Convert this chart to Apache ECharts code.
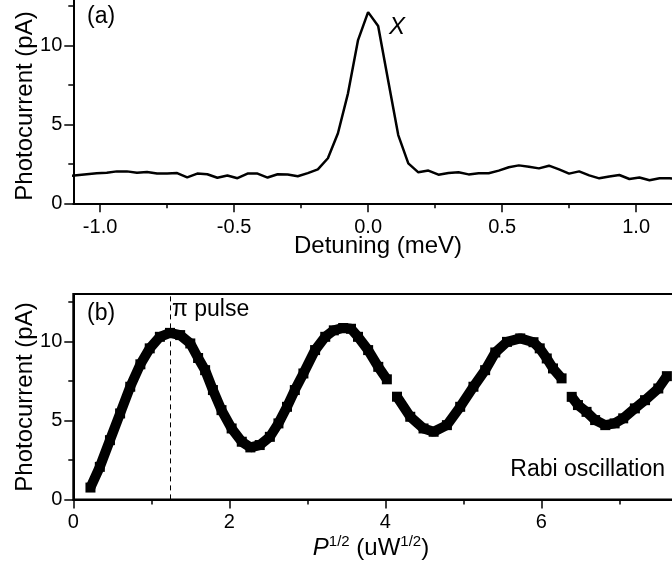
<!DOCTYPE html>
<html>
<head>
<meta charset="utf-8">
<script src="https://cdn.jsdelivr.net/npm/echarts@6/dist/echarts.min.js"></script>
<style>
  html, body { margin: 0; padding: 0; background: #fff; }
  #chart { width: 672px; height: 565px; }
</style>
</head>
<body>
<div id="chart"></div>
<script>
// (a) photocurrent vs detuning
var detuning = [
  -1.125, -1.0875, -1.05, -1.0125, -0.975, -0.9375, -0.9, -0.8625, -0.825, -0.7875,
  -0.75, -0.7125, -0.675, -0.6375, -0.6, -0.5625, -0.525, -0.4875, -0.45, -0.4125,
  -0.375, -0.3375, -0.3, -0.2625, -0.225, -0.1875, -0.15, -0.1125, -0.075, -0.0375,
  0, 0.0375, 0.075, 0.1125, 0.15, 0.1875, 0.225, 0.2625, 0.3, 0.3375,
  0.375, 0.4125, 0.45, 0.4875, 0.525, 0.5625, 0.6, 0.6375, 0.675, 0.7125,
  0.75, 0.7875, 0.825, 0.8625, 0.9, 0.9375, 0.975, 1.0125, 1.05, 1.0875,
  1.125, 1.1625, 1.2
];
var currentA = [
  1.70, 1.77, 1.84, 1.90, 1.93, 2.02, 2.02, 1.94, 1.98, 1.88,
  1.88, 1.91, 1.64, 1.88, 1.84, 1.62, 1.76, 1.59, 1.88, 1.88,
  1.63, 1.84, 1.82, 1.71, 1.91, 2.15, 2.85, 4.43, 6.96, 10.33,
  12.1, 11.22, 7.75, 4.32, 2.53, 1.96, 2.07, 1.81, 1.92, 1.96,
  1.83, 1.90, 1.90, 2.07, 2.28, 2.40, 2.32, 2.21, 2.38, 2.15,
  1.88, 2.02, 1.77, 1.58, 1.70, 1.79, 1.54, 1.63, 1.46, 1.58,
  1.58, 1.55, 1.60
];

// (b) rabi oscillation, null marks a gap between scans
var sqrtPower = [
  0.22, 0.34, 0.47, 0.60, 0.73, 0.86, 0.98, 1.11, 1.24, 1.37,
  1.50, 1.60, 1.69, 1.79, 1.90, 2.03, 2.16, 2.27, 2.39, 2.52,
  2.63, 2.74, 2.84, 2.95, 3.10, 3.23, 3.34, 3.46, 3.56, 3.65,
  3.78, 3.91, 4.02, 4.08,
  4.15, 4.32, 4.49, 4.62, 4.79, 4.96, 5.13, 5.28, 5.41, 5.56,
  5.73, 5.90, 5.98, 6.07, 6.15, 6.26, 6.32,
  6.39, 6.47, 6.58, 6.69, 6.82, 6.94, 7.05, 7.20, 7.33, 7.50, 7.61
];
var currentB = [
  0.75, 2.06, 3.75, 5.44, 7.13, 8.55, 9.56, 10.29, 10.54, 10.40,
  9.87, 8.95, 8.18, 6.92, 5.65, 4.49, 3.65, 3.29, 3.44, 3.96,
  4.81, 5.86, 6.92, 7.97, 9.45, 10.29, 10.70, 10.85, 10.80, 10.29,
  9.45, 8.39, 7.60, null,
  6.50, 5.23, 4.49, 4.28, 4.70, 5.86, 7.13, 8.18, 9.30, 9.97,
  10.19, 9.95, 9.56, 8.92, 8.29, 7.66, null,
  6.49, 5.97, 5.54, 5.02, 4.70, 4.81, 5.13, 5.76, 6.28, 7.02, 7.80
];
var piPulse = 1.24;

var detuningLabels = [-1.0, -0.5, 0, 0.5, 1.0];
var detuningMinor = [-0.75, -0.25, 0.25, 0.75];
var powerLabels = [0, 2, 4, 6];
var powerMinor = [1, 3, 5, 7];
var currentLabels = [0, 5, 10];
var currentMinor = [2.5, 7.5, 12.5];

var FONT = 'Liberation Sans, Arial, sans-serif';
var lineA = detuning.map(function (d, i) { return [d, currentA[i]]; });
var lineB = sqrtPower.map(function (p, i) {
  return [p, currentB[i] == null ? '-' : currentB[i]];
});

// major axis carries line, labels and long ticks; minor one only short ticks
function axis(pos, gridIndex, min, max, major, minor, fmt, isMinor, margin) {
  return {
    type: 'value', position: pos, gridIndex: gridIndex, min: min, max: max,
    splitLine: { show: false },
    axisLine: { show: !isMinor, onZero: false, lineStyle: { color: '#000', width: 2 } },
    axisTick: {
      show: true, inside: false, length: isMinor ? 5 : 9,
      customValues: isMinor ? minor : major,
      lineStyle: { color: '#000', width: 1.5 }
    },
    axisLabel: {
      show: !isMinor, customValues: major, color: '#000',
      fontFamily: FONT, fontSize: 20, margin: margin,
      formatter: fmt
    }
  };
}
function plain(v) { return String(v); }
function oneDec(v) { return v.toFixed(1); }

var myChart = echarts.init(document.getElementById('chart'));
var option = {
  animation: false,
  backgroundColor: '#fff',
  grid: [
    { left: 73.3, top: -2.1, width: 616.4, height: 205.4, outerBoundsMode: 'none' },
    { left: 73.3, top: 294, width: 624, height: 205.4, outerBoundsMode: 'none', show: true,
      borderColor: '#000', borderWidth: 2, backgroundColor: 'transparent' }
  ],
  xAxis: [
    axis('bottom', 0, -1.1, 1.2, detuningLabels, detuningMinor, oneDec, false, 14),
    axis('bottom', 0, -1.1, 1.2, detuningLabels, detuningMinor, oneDec, true, 14),
    axis('bottom', 1, 0, 8, powerLabels, powerMinor, plain, false, 13),
    axis('bottom', 1, 0, 8, powerLabels, powerMinor, plain, true, 13)
  ],
  yAxis: [
    axis('left', 0, 0, 13, currentLabels, currentMinor, plain, false, 11),
    axis('left', 0, 0, 13, currentLabels, currentMinor, plain, true, 11),
    axis('left', 1, 0, 13, currentLabels, currentMinor, plain, false, 11),
    axis('left', 1, 0, 13, currentLabels, currentMinor, plain, true, 11)
  ],
  series: [
    {
      type: 'line', xAxisIndex: 0, yAxisIndex: 0, data: lineA,
      showSymbol: false, clip: true,
      lineStyle: { color: '#000', width: 2.5 }
    },
    {
      type: 'line', xAxisIndex: 2, yAxisIndex: 2, data: lineB,
      symbol: 'rect', symbolSize: 10, showAllSymbol: true, clip: true,
      connectNulls: false,
      itemStyle: { color: '#000' },
      lineStyle: { color: '#000', width: 10 },
      markLine: {
        silent: true, symbol: 'none', label: { show: false },
        lineStyle: { color: '#000', width: 1, type: [5, 4] },
        data: [{ xAxis: piPulse }]
      }
    }
  ],
  graphic: [
    { type: 'text', left: 87, top: 5, style: { text: '(a)', font: '23px ' + FONT, fill: '#000' } },
    { type: 'text', left: 389, top: 15, style: { text: 'X', font: 'italic 24px ' + FONT, fill: '#000' } },
    { type: 'text', left: 87, top: 302, style: { text: '(b)', font: '23px ' + FONT, fill: '#000' } },
    { type: 'text', left: 172, top: 298, style: { text: 'π pulse', font: '23px ' + FONT, fill: '#000' } },
    { type: 'text', right: 7, top: 458, style: { text: 'Rabi oscillation', font: '23px ' + FONT, fill: '#000' } },
    { type: 'text', x: 25, y: 106, rotation: Math.PI / 2,
      style: { text: 'Photocurrent (pA)', font: '24px ' + FONT, fill: '#000', align: 'center', verticalAlign: 'middle' } },
    { type: 'text', x: 25, y: 397, rotation: Math.PI / 2,
      style: { text: 'Photocurrent (pA)', font: '24px ' + FONT, fill: '#000', align: 'center', verticalAlign: 'middle' } },
    { type: 'text', x: 378, y: 246,
      style: { text: 'Detuning (meV)', font: '24px ' + FONT, fill: '#000', align: 'center', verticalAlign: 'middle' } },
    { type: 'text', x: 371, y: 547,
      style: {
        text: '{i|P}{s|1/2}{n| (uW}{s|1/2}{n|)}',
        align: 'center', verticalAlign: 'middle', fill: '#000',
        rich: {
          i: { fontFamily: FONT, fontSize: 24, fontStyle: 'italic', verticalAlign: 'bottom', lineHeight: 26 },
          n: { fontFamily: FONT, fontSize: 24, verticalAlign: 'bottom', lineHeight: 26 },
          s: { fontFamily: FONT, fontSize: 15, verticalAlign: 'top', lineHeight: 16 }
        }
      } }
  ]
};
option && myChart.setOption(option);
</script>
</body>
</html>
